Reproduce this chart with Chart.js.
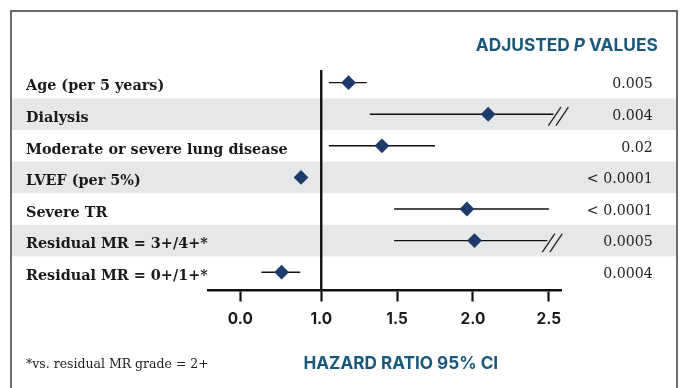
<!DOCTYPE html>
<html><head><meta charset="utf-8">
<script src="https://cdn.jsdelivr.net/npm/chart.js@4.4.1/dist/chart.umd.min.js"></script>
<style>html,body{margin:0;padding:0;background:#fff;}#wrap{width:686px;height:388px;position:relative;}</style>
</head><body><div id="wrap"><canvas id="c" width="686" height="388"></canvas></div>
<script>
// ---- data ----
const categories = ['Age (per 5 years)', 'Dialysis', 'Moderate or severe lung disease', 'LVEF (per 5%)', 'Severe TR', 'Residual MR = 3+/4+*', 'Residual MR = 0+/1+*'];
const hazardRatio = [1.18, 2.10, 1.40, 0.75, 1.96, 2.01, 0.51];
const ciLower = [1.05, 1.32, 1.05, null, 1.48, 1.48, 0.26];
const ciUpper = [1.30, 2.53, 1.75, null, 2.50, 2.49, 0.74];
const ciTruncated = [false, true, false, false, false, true, false];
const pValues = ['0.005', '0.004', '0.02', '< 0.0001', '< 0.0001', '0.0005', '0.0004'];
const tickValues = [0, 1, 1.5, 2, 2.5];
const tickLabels = ['0.0', '1.0', '1.5', '2.0', '2.5'];
const headerText = ['ADJUSTED ', 'P', ' VALUES'];
const axisTitle = 'HAZARD RATIO 95% CI';
const footnote = '*vs. residual MR grade = 2+';

// ---- broken axis: the 0-1 span is compressed ----
const BREAK_COMPRESS = 0.533;
const fwd = v => v >= 1 ? v : 1 - (1 - v) * BREAK_COMPRESS;
const inv = t => t >= 1 ? t : 1 - (1 - t) / BREAK_COMPRESS;
class BreakLinearScale extends Chart.LinearScale {
  determineDataLimits() { super.determineDataLimits(); this.min = fwd(this.min); this.max = fwd(this.max); }
  getPixelForValue(v) { return v === null ? NaN : super.getPixelForValue(fwd(v)); }
  getValueForPixel(p) { return inv(super.getValueForPixel(p)); }
}
BreakLinearScale.id = 'breakLinear';
BreakLinearScale.defaults = Chart.LinearScale.defaults;
Chart.register(BreakLinearScale);

// ---- fonts (fit to reference text widths) ----
const SERIF = "'DejaVu Serif'";
const SANS = "Inter";
const mctx = document.createElement('canvas').getContext('2d');
function mw(text, style, weight, family, size) { mctx.font = `${style} ${weight} ${size}px ${family}`; return mctx.measureText(text).width; }
function fit(text, style, weight, family, target) { return 100 * target / mw(text, style, weight, family, 100); }
const labelSize = fit('Moderate or severe lung disease', 'normal', 'bold', SERIF, 262);
const pSize = fit('< 0.0001', 'normal', 'normal', SERIF, 66);
const footSize = fit(footnote, 'normal', 'normal', SERIF, 183);
const titleSize = fit(axisTitle, 'normal', '700', SANS, 195);
const tickSize = fit('0.0', 'normal', '700', SANS, 25);
const headW100 = mw(headerText[0], 'normal', '700', SANS, 100) + mw(headerText[1], 'italic', '700', SANS, 100) + mw(headerText[2], 'normal', '700', SANS, 100);
const headSize = 100 * 182 / headW100;

const TEAL = '#19587a';
const NAVY = '#1d3b6b';
const FRAME = { left: 11, top: 11, right: 677 };

const decor = {
  id: 'decor',
  beforeDraw(chart) {
    const { ctx, scales: { y } } = chart;
    ctx.save();
    ctx.fillStyle = '#e6e7e9';
    categories.forEach((c, i) => {
      if (i % 2 === 1) {
        const t = y.getPixelForValue(i - 0.5), b = y.getPixelForValue(i + 0.5);
        ctx.fillRect(FRAME.left + 1, t, FRAME.right - FRAME.left - 2, b - t);
      }
    });
    ctx.restore();
  },
  beforeDatasetsDraw(chart) {
    const { ctx, scales: { x, y }, chartArea } = chart;
    ctx.save();
    // reference line at HR = 1
    const x1 = x.getPixelForValue(1);
    ctx.strokeStyle = '#111'; ctx.lineWidth = 2.4;
    ctx.beginPath(); ctx.moveTo(x1, chartArea.top); ctx.lineTo(x1, chartArea.bottom + 1); ctx.stroke();
    // confidence intervals
    ctx.strokeStyle = '#111'; ctx.lineWidth = 1.4;
    categories.forEach((c, i) => {
      if (ciLower[i] === null) return;
      const yc = y.getPixelForValue(i);
      const a = x.getPixelForValue(ciLower[i]), b = x.getPixelForValue(ciUpper[i]);
      ctx.beginPath(); ctx.moveTo(a, yc); ctx.lineTo(b, yc); ctx.stroke();
      if (ciTruncated[i]) {
        ctx.lineWidth = 1.3; ctx.strokeStyle = '#222';
        [0, 7.5].forEach(off => {
          ctx.beginPath(); ctx.moveTo(b - 5 + off, yc + 11.5); ctx.lineTo(b + 7.5 + off, yc - 7); ctx.stroke();
        });
        ctx.lineWidth = 1.4; ctx.strokeStyle = '#111';
      }
    });
    ctx.restore();
  },
  afterDraw(chart) {
    const { ctx, scales: { y } } = chart;
    ctx.save();
    // row labels
    ctx.fillStyle = '#1a1a1a';
    ctx.textBaseline = 'alphabetic';
    ctx.textAlign = 'left';
    ctx.font = `bold ${labelSize}px ${SERIF}`;
    categories.forEach((c, i) => ctx.fillText(c, 26, y.getPixelForValue(i) + 7.8));
    // p values
    ctx.textAlign = 'right';
    ctx.fillStyle = '#222';
    ctx.font = `normal ${pSize}px ${SERIF}`;
    pValues.forEach((p, i) => ctx.fillText(p, 652.7, y.getPixelForValue(i) + 5.7));
    // header
    ctx.fillStyle = TEAL;
    ctx.textAlign = 'left';
    const f0 = `normal 700 ${headSize}px ${SANS}`, f1 = `italic 700 ${headSize}px ${SANS}`;
    ctx.font = f0; const w0 = ctx.measureText(headerText[0]).width, w2 = ctx.measureText(headerText[2]).width;
    ctx.font = f1; const w1 = ctx.measureText(headerText[1]).width;
    let hx = 657.7 - (w0 + w1 + w2);
    ctx.font = f0; ctx.fillText(headerText[0], hx, 51); hx += w0;
    ctx.font = f1; ctx.fillText(headerText[1], hx, 51); hx += w1;
    ctx.font = f0; ctx.fillText(headerText[2], hx, 51);
    // axis title
    ctx.textAlign = 'center';
    ctx.font = `normal 700 ${titleSize}px ${SANS}`;
    ctx.fillText(axisTitle, 400.8, 368.7);
    // footnote
    ctx.textAlign = 'left';
    ctx.fillStyle = '#222';
    ctx.font = `normal ${footSize}px ${SERIF}`;
    ctx.fillText(footnote, 26, 368);
    // frame
    ctx.strokeStyle = '#6b6b6b'; ctx.lineWidth = 2;
    ctx.beginPath();
    ctx.moveTo(FRAME.left, 388); ctx.lineTo(FRAME.left, FRAME.top); ctx.lineTo(FRAME.right, FRAME.top); ctx.lineTo(FRAME.right, 388);
    ctx.stroke();
    ctx.restore();
  }
};

const pad = { left: 208, right: 125, top: 70, bottom: 58 };
const chart = new Chart(document.getElementById('c'), {
  type: 'scatter',
  data: {
    datasets: [{
      data: hazardRatio.map((v, i) => ({ x: v, y: i })),
      pointStyle: 'rectRot',
      pointRadius: 7.4,
      pointHoverRadius: 7.4,
      backgroundColor: NAVY,
      borderWidth: 0
    }]
  },
  options: {
    responsive: false,
    animation: false,
    devicePixelRatio: 1,
    layout: { padding: pad },
    plugins: { legend: { display: false }, tooltip: { enabled: false } },
    scales: {
      x: {
        type: 'breakLinear',
        min: -0.4,
        max: 2.58,
        bounds: 'data',
        afterBuildTicks: s => { s.ticks = tickValues.map(v => ({ value: v })); },
        ticks: {
          autoSkip: false, maxRotation: 0, padding: 9,
          color: '#1a1a1a',
          font: { family: SANS, weight: '700', size: tickSize },
          callback: (v, i) => tickLabels[i]
        },
        grid: { drawOnChartArea: false, drawTicks: true, tickLength: 11, tickWidth: 2.2, tickColor: '#111' },
        border: { display: true, width: 2.5, color: '#111' }
      },
      y: {
        type: 'linear',
        reverse: true,
        min: -0.40,
        max: 6.58,
        display: false
      }
    }
  },
  plugins: [decor]
});
const target = { left: 208, right: 561, top: 70, bottom: 290.5 };
for (let k = 0; k < 3; k++) {
  const a = chart.chartArea;
  pad.left += target.left - a.left;
  pad.right += a.right - target.right;
  pad.top += target.top - a.top;
  pad.bottom += a.bottom - target.bottom;
  chart.options.layout.padding = { ...pad };
  chart.update('none');
}
</script></body></html>
